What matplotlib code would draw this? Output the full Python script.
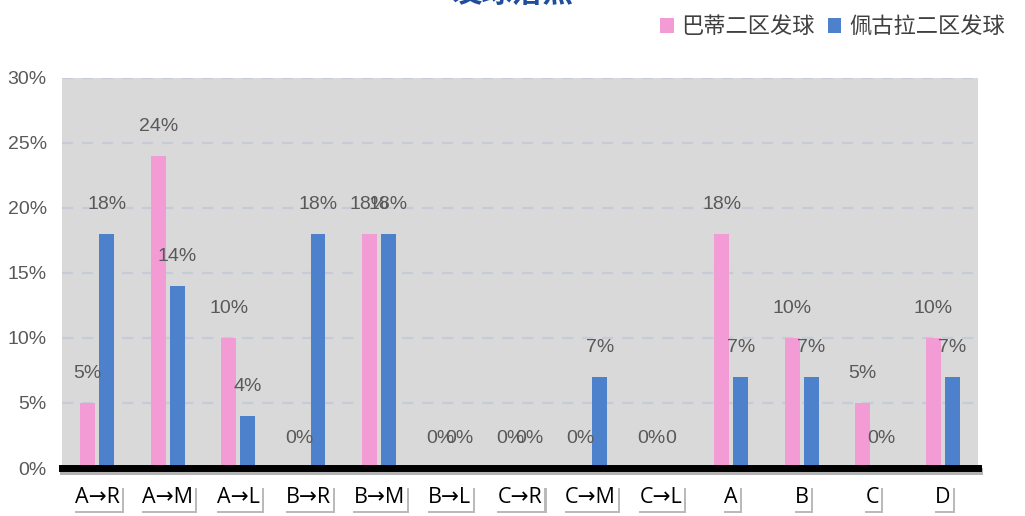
import matplotlib
matplotlib.use("Agg")
import matplotlib.pyplot as plt
import matplotlib.patheffects as pe
import numpy as np

categories = ["A→R", "A→M", "A→L", "B→R", "B→M", "B→L", "C→R", "C→M", "C→L",
              "A", "B", "C", "D"]
barty = [5, 24, 10, 0, 18, 0, 0, 0, 0, 18, 10, 5, 10]
pegula = [18, 14, 4, 18, 18, 0, 0, 7, 0, 7, 7, 0, 7]
barty_labels = [f"{v}%" for v in barty]
pegula_labels = [f"{v}%" for v in pegula]
pegula_labels[8] = "0"   # the source shows a bare "0" here
series_names = ["巴蒂二区发球", "佩古拉二区发球"]
yticks = [0, 5, 10, 15, 20, 25, 30]

PINK = "#F39BD5"
BLUE = "#4E81CC"
GRAY_TXT = "#595959"
LATIN = ["Liberation Sans", "DejaVu Sans"]
TICK = ["Open Sans", "DejaVu Sans"]
CJK = ["Noto Sans CJK SC", "DejaVu Sans"]

fig = plt.figure(figsize=(10.25, 5.16), dpi=100)
ax = fig.add_axes([0.0605, 0.093, 0.8935, 0.756])
ax.set_facecolor("#D9D9D9")

x = np.arange(len(categories))
w = 0.21
off = 0.135
b1 = ax.bar(x - off, barty, w, color=PINK, zorder=3, label=series_names[0])
b2 = ax.bar(x + off, pegula, w, color=BLUE, zorder=3, label=series_names[1])

for xs, vals, labs in [(x - off, barty, barty_labels), (x + off, pegula, pegula_labels)]:
    for xi, v, lab in zip(xs, vals, labs):
        ax.annotate(lab, (xi, v), xytext=(0, 21), textcoords="offset points",
                    ha="center", va="center", fontsize=14, color=GRAY_TXT,
                    family=LATIN, zorder=5)

ax.set_xlim(-0.5, len(categories) - 0.5)
ax.set_ylim(0, 30)
ax.set_yticks(yticks)
ax.set_yticklabels([f"{t}%" for t in yticks], fontsize=14, color=GRAY_TXT,
                   family=LATIN)
ax.tick_params(axis="y", length=0, pad=11)
ax.tick_params(axis="x", length=0, pad=14)
ax.set_xticks(x)
ax.set_xticklabels(categories, fontsize=15.5, color="black", family=TICK)
for t in ax.get_xticklabels():
    t.set_bbox(dict(facecolor="white", edgecolor="none", pad=1.5))
    t.get_bbox_patch().set_path_effects([
        pe.withSimplePatchShadow(offset=(1.5, -2), shadow_rgbFace="#777777", alpha=0.5),
    ])

ax.yaxis.grid(True, linestyle=(0, (5, 4)), color="#C6CBD6", linewidth=1.6, zorder=1)
ax.set_axisbelow(True)
for s in ax.spines.values():
    s.set_visible(False)

ax.axhline(0, color="black", linewidth=5, zorder=4, clip_on=False,
           path_effects=[pe.SimpleLineShadow(offset=(1, -2), alpha=0.3), pe.Normal()])

leg = fig.legend(handles=[b1, b2], labels=series_names, loc="center right",
                 bbox_to_anchor=(1.0, 0.948), ncol=2, frameon=False,
                 prop={"family": CJK, "size": 16}, handlelength=0.6,
                 handleheight=0.6, handletextpad=0.35, columnspacing=0.6,
                 labelcolor="#404040")

# title is cut off at the top of the source image
fig.text(0.5, 1 - 9 / 516, "发球落点", ha="center", va="bottom", fontsize=22,
         color="#1F4E9C", family=CJK, fontweight="bold")

fig.savefig("out.png", dpi=100)
